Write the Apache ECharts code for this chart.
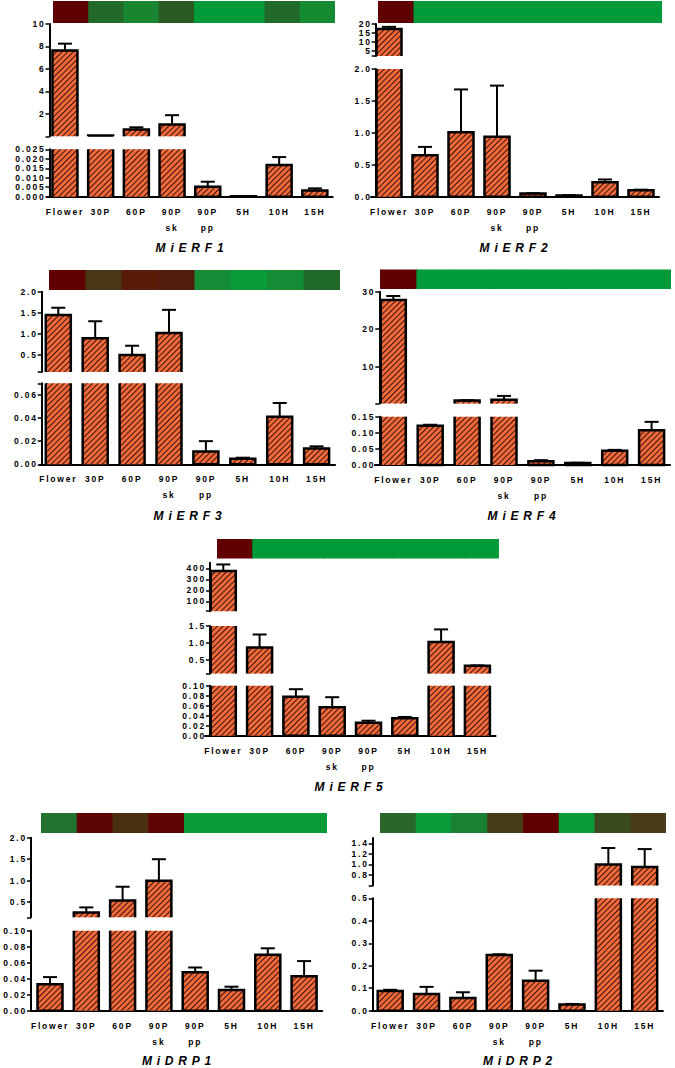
<!DOCTYPE html>
<html>
<head>
<meta charset="utf-8">
<script src="https://cdn.jsdelivr.net/npm/echarts@6/dist/echarts.min.js"></script>
<style>
  html, body { margin: 0; padding: 0; background: #fff; }
  #chart { width: 675px; height: 1068px; }
  #chart text { letter-spacing: 1.8px; }
  #chart text[fill="#010101"] { letter-spacing: 4.8px; }
</style>
</head>
<body>
<div id="chart"></div>
<script>
const categories = ['Flower', '30P', '60P', '90P\nsk', '90P\npp', '5H', '10H', '15H'];

// relative expression (mean) and SD
const erf1Mean = [7.65, 0.08, 0.6, 1.05, 0.0053, 0.0002, 0.0167, 0.0033];
const erf1Err = [0.6, 0, 0.2, 0.83, 0.0026, 0, 0.0042, 0.0011];
const erf2Mean = [17.2, 0.65, 1.01, 0.94, 0.05, 0.02, 0.225, 0.1];
const erf2Err = [1.2, 0.13, 0.67, 0.8, 0.005, 0.003, 0.045, 0.01];
const erf3Mean = [1.45, 0.9, 0.5, 1.02, 0.011, 0.0047, 0.041, 0.0137];
const erf3Err = [0.17, 0.4, 0.22, 0.55, 0.009, 0.001, 0.012, 0.0018];
const erf4Mean = [27.8, 0.122, 0.95, 1.2, 0.012, 0.006, 0.044, 0.108];
const erf4Err = [1.05, 0.003, 0.1, 1.0, 0.003, 0.001, 0.003, 0.026];
const erf5Mean = [375, 0.87, 0.078, 0.057, 0.026, 0.035, 1.03, 0.33];
const erf5Err = [60, 0.38, 0.015, 0.02, 0.004, 0.0025, 0.37, 0.01];
const drp1Mean = [0.033, 0.26, 0.54, 1.0, 0.048, 0.026, 0.07, 0.043];
const drp1Err = [0.009, 0.12, 0.32, 0.5, 0.006, 0.004, 0.008, 0.019];
const drp2Mean = [0.088, 0.074, 0.057, 0.248, 0.133, 0.028, 1.0, 0.95];
const drp2Err = [0.005, 0.032, 0.025, 0.003, 0.045, 0.002, 0.31, 0.34];

// heat map strip colours above each plot
const G = '#009a38';
const erf1Heat = ['#600000', '#236a2a', '#188530', '#2a5a22', G, G, '#236a2a', '#148a32'];
const erf2Heat = ['#600000', G, G, G, G, G, G, G];
const erf3Heat = ['#600000', '#4a3814', '#5a1a08', '#521c0c', '#168c36', '#0a9a3a', '#148c36', '#206a2a'];
const erf4Heat = ['#600000', G, G, G, G, G, G, G];
const erf5Heat = ['#600000', G, G, G, G, G, G, G];
const drp1Heat = ['#237230', '#5c0606', '#4a2e10', '#5e0404', '#069a38', '#069a38', '#069a38', '#069a38'];
const drp2Heat = ['#2a6629', '#0a9a3a', '#1a8032', '#463c18', '#600000', '#0a9a3a', '#3a4a1e', '#4a3c18'];

// tick labels of every axis segment (top segment first)
const erf1Ticks = [[2, 4, 6, 8, 10], [0, 0.005, 0.01, 0.015, 0.02, 0.025]];
const erf2Ticks = [[5, 10, 15, 20], [0, 0.5, 1, 1.5, 2]];
const erf3Ticks = [[0.5, 1, 1.5, 2], [0, 0.02, 0.04, 0.06]];
const erf4Ticks = [[10, 20, 30], [0, 0.05, 0.1, 0.15]];
const erf5Ticks = [[100, 200, 300, 400], [0.5, 1, 1.5], [0, 0.02, 0.04, 0.06, 0.08, 0.1]];
const drp1Ticks = [[0.5, 1, 1.5, 2], [0, 0.02, 0.04, 0.06, 0.08, 0.1]];
const drp2Ticks = [[0.8, 1.0, 1.2, 1.4], [0, 0.1, 0.2, 0.3, 0.4, 0.5]];

let chartDom = document.getElementById('chart');
let myChart = echarts.init(chartDom, null, {renderer: 'svg'});

const fontFamily = '"Liberation Sans", Arial, sans-serif';
const barWidth = 25;
const barColor = '#f26a3c';

const panels = [
    {title: 'MiERF1', mean: erf1Mean, err: erf1Err, heat: erf1Heat, ticks: erf1Ticks,
        x0: 47.1, bw: 35.7, axisX: 49.5, strip: [53, 1, 282, 22], titlePos: [192, 247.5],
        segs: [{min: 0, max: 10, top: 24, bottom: 136.3, dec: 0}, {min: 0, max: 0.025, top: 149.3, bottom: 196.7, dec: 3}]},
    {title: 'MiERF2', mean: erf2Mean, err: erf2Err, heat: erf2Heat, ticks: erf2Ticks,
        x0: 371, bw: 36, axisX: 375.7, strip: [378, 1, 284, 22], titlePos: [516, 247.5],
        segs: [{min: 2, max: 20, top: 24, bottom: 56, dec: 0}, {min: 0, max: 2, top: 69, bottom: 196.7, dec: 1}]},
    {title: 'MiERF3', mean: erf3Mean, err: erf3Err, heat: erf3Heat, ticks: erf3Ticks,
        x0: 39.85, bw: 36.9, axisX: 41.7, strip: [49, 270, 291, 20], titlePos: [190, 516],
        segs: [{min: 0.1, max: 2, top: 291.7, bottom: 371.9, dec: 1}, {min: 0, max: 0.07, top: 383.3, bottom: 464.3, dec: 2}]},
    {title: 'MiERF4', mean: erf4Mean, err: erf4Err, heat: erf4Heat, ticks: erf4Ticks,
        x0: 374.85, bw: 36.9, axisX: 379.3, strip: [380, 269.5, 291, 19.5], titlePos: [524, 516],
        segs: [{min: 0.15, max: 30, top: 291.7, bottom: 403.6, dec: 0}, {min: 0, max: 0.15, top: 416.7, bottom: 465, dec: 2}]},
    {title: 'MiERF5', mean: erf5Mean, err: erf5Err, heat: erf5Heat, ticks: erf5Ticks,
        x0: 205.15, bw: 36.3, axisX: 210, strip: [217, 539, 282, 19.5], titlePos: [351, 786.5],
        segs: [{min: 10, max: 450, top: 562.8, bottom: 611.2, dec: 0}, {min: 0.1, max: 1.5, top: 626, bottom: 673.6, dec: 1},
            {min: 0, max: 0.1, top: 685.7, bottom: 735.7, dec: 2}]},
    {title: 'MiDRP1', mean: drp1Mean, err: drp1Err, heat: drp1Heat, ticks: drp1Ticks,
        x0: 31.85, bw: 36.3, axisX: 31, strip: [41, 813, 286, 20], titlePos: [179, 1061],
        segs: [{min: 0.15, max: 2, top: 837.7, bottom: 917.3, dec: 1}, {min: 0, max: 0.1, top: 930.7, bottom: 1010.7, dec: 2}]},
    {title: 'MiDRP2', mean: drp2Mean, err: drp2Err, heat: drp2Heat, ticks: drp2Ticks,
        x0: 372, bw: 36.36, axisX: 372.7, strip: [380, 813, 286, 20], titlePos: [520, 1061],
        segs: [{min: 0.6, max: 1.5, top: 838, bottom: 885.5, dec: 1}, {min: 0, max: 0.5, top: 898.3, bottom: 1010.7, dec: 1}]},
];

const grid = [], xAxis = [], yAxis = [], series = [], graphic = [];

const labelFont = {color: '#000', fontSize: 8.5, fontWeight: 'bold', fontFamily};

const addStrip = p => {
    const idx = grid.length;
    const [left, top, width, height] = p.strip;
    grid.push({left, top, width, height, outerBoundsMode: 'none'});
    xAxis.push({gridIndex: idx, type: 'category', data: categories, show: false});
    yAxis.push({gridIndex: idx, type: 'category', data: ['heat'], show: false});
    series.push({
        type: 'custom',
        xAxisIndex: idx,
        yAxisIndex: idx,
        data: p.heat.map((c, i) => ({value: [i, 0], itemStyle: {color: c}})),
        renderItem: (params, api) => {
            const i = api.value(0);
            const pt = api.coord([i, 0]);
            const size = api.size([1, 1]);
            // overlap the next cell a little so no seam shows
            const extra = i < categories.length - 1 ? 1 : 0;
            return {
                type: 'rect',
                shape: {x: pt[0] - size[0] / 2, y: pt[1] - size[1] / 2, width: size[0] + extra, height: size[1]},
                style: {fill: api.visual('color')},
            };
        },
    });
};

const outline = (seg, isBottom, lowerMax) => (params, api) => {
    const i = api.value(0);
    const v = api.value(1);
    const e = api.value(2);
    if (!isBottom && v <= lowerMax) {
        return null;
    }
    const half = barWidth / 2;
    const cx = api.coord([i, seg.min])[0];
    const yBase = api.coord([i, seg.min])[1];
    const yTop = api.coord([i, Math.min(v, seg.max)])[1];
    const l = cx - half;
    const r = cx + half;
    const style = {stroke: '#000', lineWidth: 2.5, fill: null};
    const children = [];
    if (v <= seg.max) {
        const pts = [[l, yBase], [l, yTop], [r, yTop], [r, yBase]];
        if (isBottom) {
            pts.push([l, yBase]);
        }
        children.push({type: 'polyline', shape: {points: pts}, style});
        if (e > 0) {
            const yEnd = api.coord([i, Math.min(v + e, seg.max)])[1];
            children.push({type: 'line', shape: {x1: cx, y1: yTop, x2: cx, y2: yEnd}, style: {stroke: '#000', lineWidth: 2}});
            if (v + e <= seg.max) {
                children.push({type: 'line', shape: {x1: cx - 7, y1: yEnd, x2: cx + 7, y2: yEnd}, style: {stroke: '#000', lineWidth: 2}});
            }
        }
    } else {
        children.push({type: 'line', shape: {x1: l, y1: yBase, x2: l, y2: yTop}, style});
        children.push({type: 'line', shape: {x1: r, y1: yBase, x2: r, y2: yTop}, style});
    }
    return {type: 'group', children};
};

const addSegment = (p, seg, k) => {
    const idx = grid.length;
    const isBottom = k === p.segs.length - 1;
    const isTop = k === 0;
    const lowerMax = isBottom ? 0 : p.segs[k + 1].max;
    const labels = p.ticks[k];
    const ticks = labels.slice();
    if (!isBottom) ticks.push(seg.min);
    if (!isTop && ticks.indexOf(seg.max) < 0) ticks.push(seg.max);

    grid.push({left: p.x0, top: seg.top, width: p.bw * 8, height: seg.bottom - seg.top, outerBoundsMode: 'none'});
    xAxis.push({
        gridIndex: idx,
        type: 'category',
        data: categories,
        show: isBottom,
        axisLine: {lineStyle: {color: '#000', width: 2}},
        axisTick: {alignWithLabel: true, length: 4, lineStyle: {color: '#000', width: 1.5}},
        axisLabel: {...labelFont, lineHeight: 16, margin: 7, interval: 0},
    });
    yAxis.push({
        gridIndex: idx,
        type: 'value',
        min: seg.min,
        max: seg.max,
        offset: p.x0 - p.axisX,
        splitLine: {show: false},
        axisLine: {show: true, lineStyle: {color: '#000', width: 2}},
        axisTick: {show: true, length: 4, customValues: ticks, lineStyle: {color: '#000', width: 1.5}},
        axisLabel: {...labelFont, margin: 4, customValues: labels, formatter: v => v.toFixed(seg.dec)},
    });
    series.push({
        type: 'bar',
        xAxisIndex: idx,
        yAxisIndex: idx,
        // upper segments only show the bars that run past the break
        data: p.mean.map(v => (isBottom || v > lowerMax ? v : '-')),
        barWidth,
        clip: true,
        itemStyle: {
            color: barColor,
            borderWidth: 0,
            decal: {
                symbol: 'rect',
                symbolSize: 1,
                color: 'rgba(25,5,0,0.85)',
                dashArrayX: [1, 0],
                dashArrayY: [1, 2.2],
                rotation: -Math.PI / 4,
            },
        },
    });
    series.push({
        type: 'custom',
        xAxisIndex: idx,
        yAxisIndex: idx,
        data: p.mean.map((v, i) => [i, v, p.err[i]]),
        renderItem: outline(seg, isBottom, lowerMax),
        z: 3,
    });
};

panels.forEach(p => {
    addStrip(p);
    p.segs.forEach((seg, k) => addSegment(p, seg, k));
    graphic.push({
        type: 'text',
        x: p.titlePos[0],
        y: p.titlePos[1],
        style: {
            text: p.title,
            font: 'italic bold 12px "Liberation Sans", Arial, sans-serif',
            fill: '#010101',
            align: 'center',
            verticalAlign: 'middle',
        },
    });
});

const option = {
    animation: false,
    backgroundColor: '#fff',
    grid,
    xAxis,
    yAxis,
    series,
    graphic,
};

myChart.setOption(option);
</script>
</body>
</html>
